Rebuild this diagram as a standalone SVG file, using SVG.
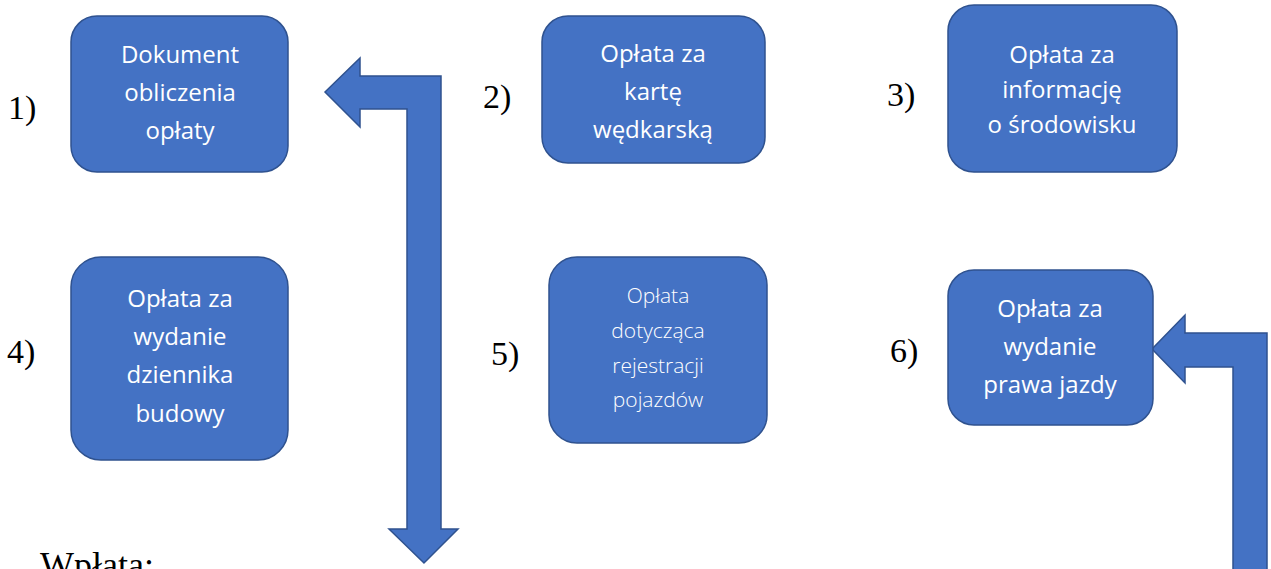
<svg xmlns="http://www.w3.org/2000/svg" width="1271" height="569" viewBox="0 0 1271 569">
<style>
.box{fill:#4472C4;stroke:#2F528F;stroke-width:1.5}
.t{font-family:"Open Sans","Noto Sans",sans-serif;font-size:24px;fill:#FFFFFF;text-anchor:middle}
.tl{font-family:"Open Sans","Noto Sans",sans-serif;font-size:21px;font-weight:300;fill:#FFFFFF;text-anchor:middle}
.n{font-family:"Liberation Serif",serif;font-size:34px;fill:#000000}
.arr{fill:#4472C4;stroke:#2F528F;stroke-width:1.5;stroke-linejoin:miter}
</style>
<rect width="1271" height="569" fill="#FFFFFF"/>
<g id="connectors">
<polygon class="arr" points="325,92 360,58 360,76 441,76 441,529 458,529 424,563 389,529 407,529 407,109 360,109 360,127"/>
<polygon class="arr" points="1152,349 1185,315 1185,333 1267,333 1267,575 1233,575 1233,367 1185,367 1185,383"/>
</g>
<g id="node1">
<text class="n" x="8" y="119">1)</text>
<rect class="box" x="71" y="16" width="217" height="156" rx="26"/>
<text class="t" x="180" y="63">Dokument</text>
<text class="t" x="180" y="101">obliczenia</text>
<text class="t" x="180" y="139">opłaty</text>
</g>
<g id="node2">
<text class="n" x="483" y="108">2)</text>
<rect class="box" x="542" y="16" width="223" height="147" rx="26"/>
<text class="t" x="653" y="62">Opłata za</text>
<text class="t" x="653" y="100">kartę</text>
<text class="t" x="653" y="138">wędkarską</text>
</g>
<g id="node3">
<text class="n" x="887" y="106">3)</text>
<rect class="box" x="948" y="5" width="229" height="167" rx="26"/>
<text class="t" x="1062" y="63">Opłata za</text>
<text class="t" x="1062" y="98">informację</text>
<text class="t" x="1062" y="133">o środowisku</text>
</g>
<g id="node4">
<text class="n" x="7" y="363">4)</text>
<rect class="box" x="71" y="257" width="217" height="203" rx="30"/>
<text class="t" x="180" y="307">Opłata za</text>
<text class="t" x="180" y="345">wydanie</text>
<text class="t" x="180" y="383">dziennika</text>
<text class="t" x="180" y="422">budowy</text>
</g>
<g id="node5">
<text class="n" x="491" y="365">5)</text>
<rect class="box" x="549" y="257" width="218" height="186" rx="28"/>
<text class="tl" x="658" y="303">Opłata</text>
<text class="tl" x="658" y="338">dotycząca</text>
<text class="tl" x="658" y="373">rejestracji</text>
<text class="tl" x="658" y="407">pojazdów</text>
</g>
<g id="node6">
<text class="n" x="890" y="362">6)</text>
<rect class="box" x="948" y="270" width="205" height="155" rx="26"/>
<text class="t" x="1050" y="317">Opłata za</text>
<text class="t" x="1050" y="355">wydanie</text>
<text class="t" x="1050" y="393">prawa jazdy</text>
</g>
<text class="n" x="40" y="577" style="font-size:36px">Wpłata:</text>
</svg>
